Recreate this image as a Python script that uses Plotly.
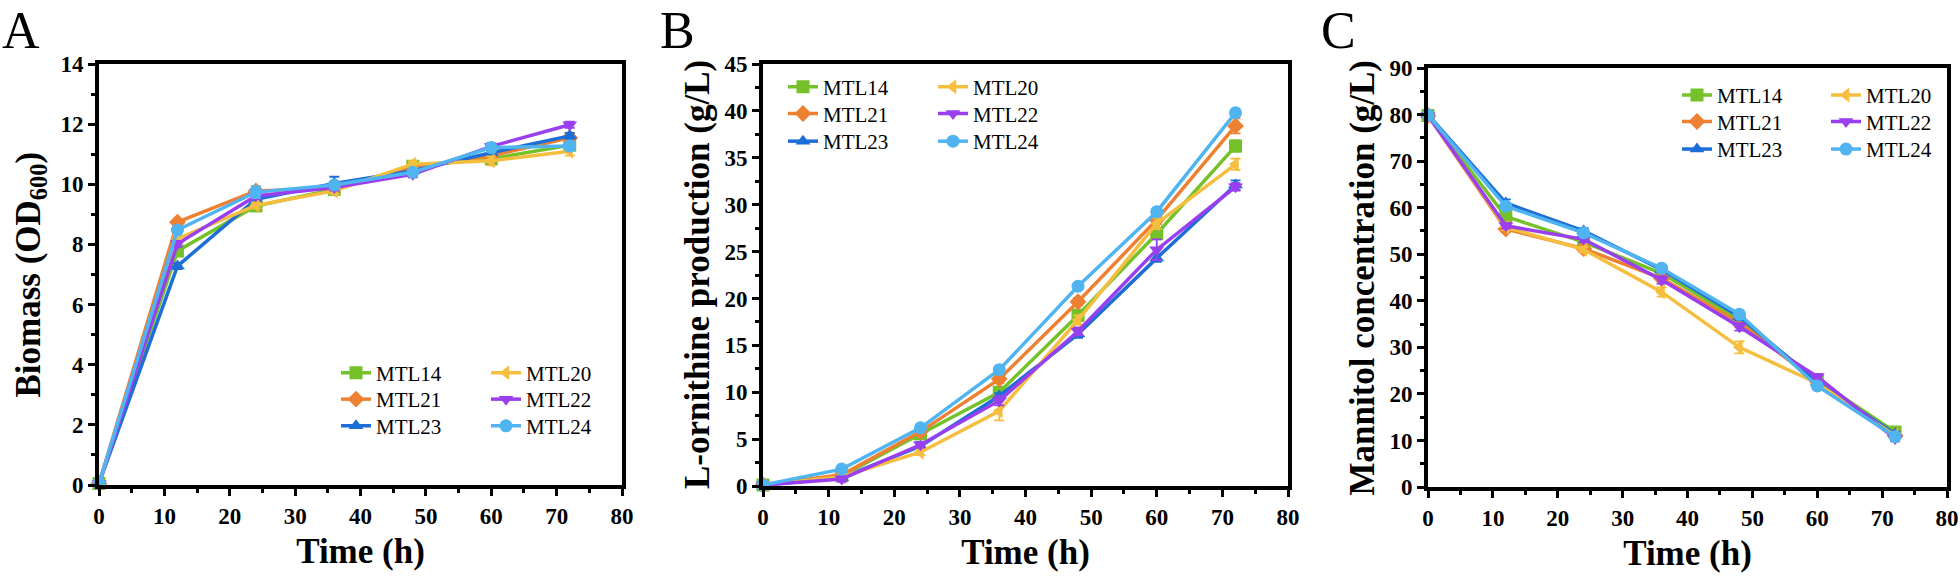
import plotly.graph_objects as go

# ---------------- data ----------------
time_h = [0, 12, 24, 36, 48, 60, 72]
strains = ["MTL14", "MTL20", "MTL21", "MTL22", "MTL23", "MTL24"]

# Panel A: Biomass (OD600)
biomass_mtl14 = [0.05, 7.78, 9.28, 9.83, 10.60, 10.85, 11.30]
biomass_mtl20 = [0.05, 8.19, 9.30, 9.78, 10.67, 10.78, 11.10]
biomass_mtl21 = [0.05, 8.74, 9.78, 9.87, 10.55, 10.95, 11.55]
biomass_mtl22 = [0.05, 8.02, 9.61, 9.89, 10.33, 11.26, 11.98]
biomass_mtl23 = [0.05, 7.28, 9.50, 10.03, 10.45, 11.05, 11.61]
biomass_mtl24 = [0.05, 8.48, 9.74, 9.98, 10.40, 11.22, 11.27]
biomass_err_mtl14 = [0.02, 0.10, 0.10, 0.10, 0.10, 0.20, 0.15]
biomass_err_mtl20 = [0.02, 0.10, 0.10, 0.10, 0.10, 0.15, 0.15]
biomass_err_mtl21 = [0.02, 0.10, 0.10, 0.10, 0.10, 0.10, 0.15]
biomass_err_mtl22 = [0.02, 0.10, 0.10, 0.10, 0.10, 0.10, 0.10]
biomass_err_mtl23 = [0.02, 0.10, 0.10, 0.22, 0.10, 0.10, 0.10]
biomass_err_mtl24 = [0.02, 0.10, 0.20, 0.10, 0.10, 0.15, 0.15]

# Panel B: L-ornithine production (g/L)
orn_mtl14 = [0.1, 1.10, 5.55, 10.0, 18.2, 26.9, 36.25]
orn_mtl20 = [0.1, 1.00, 3.60, 8.0, 17.7, 28.0, 34.30]
orn_mtl21 = [0.1, 1.20, 5.80, 11.4, 19.65, 28.4, 38.40]
orn_mtl22 = [0.1, 0.75, 4.40, 9.1, 16.5, 25.2, 31.90]
orn_mtl23 = [0.1, 0.90, 4.25, 9.6, 16.2, 24.3, 32.10]
orn_mtl24 = [0.1, 1.80, 6.20, 12.4, 21.3, 29.25, 39.80]
orn_err_mtl14 = [0.05, 0.2, 0.4, 0.4, 0.6, 0.5, 0.6]
orn_err_mtl20 = [0.05, 0.2, 0.3, 1.0, 0.5, 0.6, 0.6]
orn_err_mtl21 = [0.05, 0.2, 0.3, 0.4, 0.4, 0.5, 0.8]
orn_err_mtl22 = [0.05, 0.3, 0.3, 0.5, 0.4, 1.1, 0.4]
orn_err_mtl23 = [0.05, 0.2, 0.3, 0.3, 0.4, 0.4, 0.5]
orn_err_mtl24 = [0.05, 0.2, 0.3, 0.3, 0.3, 0.3, 0.3]

# Panel C: Mannitol concentration (g/L)
mtl_mtl14 = [79.8, 58.1, 52.6, 45.9, 36.0, 23.0, 11.8]
mtl_mtl20 = [79.8, 55.8, 51.0, 41.9, 30.0, 22.3, 11.0]
mtl_mtl21 = [79.8, 55.4, 51.2, 44.8, 35.3, 22.6, 11.0]
mtl_mtl22 = [79.8, 56.1, 53.2, 44.5, 34.4, 23.7, 10.4]
mtl_mtl23 = [80.0, 61.0, 55.0, 46.7, 36.6, 22.5, 11.4]
mtl_mtl24 = [79.9, 60.3, 54.6, 47.0, 37.1, 21.7, 10.8]
mtl_err_mtl14 = [0.5, 0.8, 0.6, 0.6, 0.8, 0.6, 0.6]
mtl_err_mtl20 = [0.5, 0.6, 0.6, 1.0, 1.3, 0.6, 0.6]
mtl_err_mtl21 = [0.5, 0.6, 0.8, 0.6, 1.0, 0.6, 0.6]
mtl_err_mtl22 = [0.5, 0.6, 0.6, 0.8, 0.8, 0.6, 0.6]
mtl_err_mtl23 = [0.5, 0.8, 0.6, 0.6, 0.8, 0.6, 0.6]
mtl_err_mtl24 = [0.5, 0.6, 0.8, 0.6, 0.8, 0.6, 0.6]

biomass_series = [biomass_mtl14, biomass_mtl20, biomass_mtl21, biomass_mtl22, biomass_mtl23, biomass_mtl24]
biomass_errors = [biomass_err_mtl14, biomass_err_mtl20, biomass_err_mtl21, biomass_err_mtl22, biomass_err_mtl23, biomass_err_mtl24]
orn_series = [orn_mtl14, orn_mtl20, orn_mtl21, orn_mtl22, orn_mtl23, orn_mtl24]
orn_errors = [orn_err_mtl14, orn_err_mtl20, orn_err_mtl21, orn_err_mtl22, orn_err_mtl23, orn_err_mtl24]
mtl_series = [mtl_mtl14, mtl_mtl20, mtl_mtl21, mtl_mtl22, mtl_mtl23, mtl_mtl24]
mtl_errors = [mtl_err_mtl14, mtl_err_mtl20, mtl_err_mtl21, mtl_err_mtl22, mtl_err_mtl23, mtl_err_mtl24]

# ---------------- style ----------------
colors = ["#74C12A", "#F5BE3E", "#EE8032", "#9A3FF0", "#1E6ED8", "#4FB4F0"]
symbols = ["square", "triangle-left", "diamond", "triangle-down", "triangle-up", "circle"]
FONT = "Liberation Serif, Times New Roman, serif"
W, H = 1960, 576

def px_x(p):
    return p / W

def px_y(p):
    return 1 - p / H

panels = [
    dict(series=biomass_series, errors=biomass_errors, xd=(99, 622), yd=(64, 485),
         yr=[0, 14], dt=2, mdt=1, title="Biomass (OD<sub>600</sub>)", tx=30,
         cols=(376, 526), rows=(372.5, 399.0, 425.7)),
    dict(series=orn_series, errors=orn_errors, xd=(763, 1288), yd=(64, 486),
         yr=[0, 45], dt=5, mdt=2.5, title="L-ornithine production (g/L)", tx=697,
         cols=(823, 973), rows=(86.7, 113.4, 141.0)),
    dict(series=mtl_series, errors=mtl_errors, xd=(1428, 1947), yd=(68, 487),
         yr=[0, 90], dt=10, mdt=5, title="Mannitol concentration (g/L)", tx=1362,
         cols=(1717, 1866), rows=(94.8, 121.3, 148.9)),
]

# legend layout: item index -> (col, row), row-major as in the reference
item_pos = {0: (0, 0), 1: (1, 0), 2: (0, 1), 3: (1, 1), 4: (0, 2), 5: (1, 2)}
draw_order = [0, 2, 4, 1, 3, 5]

fig = go.Figure()
layout = dict(
    width=W, height=H,
    margin=dict(l=0, r=0, t=0, b=0, autoexpand=False),
    paper_bgcolor="white", plot_bgcolor="white",
    showlegend=True,
    font=dict(family=FONT, color="black"),
    annotations=[],
)

tickfont = dict(family=FONT, size=23, color="black", weight="bold")
titlefont = dict(family=FONT, size=35, color="black", weight="bold")

for p, cfg in enumerate(panels):
    ax = "" if p == 0 else str(p + 1)
    xname, yname = "x" + ax, "y" + ax
    for i in draw_order:
        k = p * 6 + i
        lg = "legend" if k == 0 else f"legend{k + 1}"
        fig.add_trace(go.Scatter(
            x=time_h, y=cfg["series"][i], name=strains[i],
            mode="lines+markers",
            line=dict(color=colors[i], width=3.5),
            marker=dict(symbol=symbols[i], size=13, color=colors[i]),
            error_y=dict(type="data", array=cfg["errors"][i], color=colors[i], thickness=1.8, width=5),
            cliponaxis=False,
            xaxis=xname, yaxis=yname, legend=lg,
        ))
        col, row = item_pos[i]
        layout[lg] = dict(
            x=px_x(cfg["cols"][col] - 40), xanchor="left",
            y=px_y(cfg["rows"][row] - 20), yanchor="top",
            bgcolor="rgba(0,0,0,0)", borderwidth=0,
            font=dict(family=FONT, size=21, color="black"),
        )
    layout["xaxis" + ax] = dict(
        domain=[px_x(cfg["xd"][0]), px_x(cfg["xd"][1])], anchor=yname,
        range=[0, 80], tick0=0, dtick=10,
        ticks="outside", ticklen=7, tickwidth=3, tickcolor="black",
        minor=dict(dtick=5, ticks="outside", ticklen=4, tickwidth=3, tickcolor="black", showgrid=False),
        showline=True, linewidth=4, linecolor="black", mirror=True,
        showgrid=False, zeroline=False, tickfont=tickfont,
        title=dict(text="Time (h)", font=titlefont, standoff=12),
    )
    layout["yaxis" + ax] = dict(
        domain=[px_y(cfg["yd"][1]), px_y(cfg["yd"][0])], anchor=xname,
        range=cfg["yr"], tick0=0, dtick=cfg["dt"],
        ticks="outside", ticklen=7, tickwidth=3, tickcolor="black",
        minor=dict(dtick=cfg["mdt"], ticks="outside", ticklen=4, tickwidth=3, tickcolor="black", showgrid=False),
        showline=True, linewidth=4, linecolor="black", mirror=True,
        showgrid=False, zeroline=False, tickfont=tickfont,
    )
    # y-axis title, rotated, centred on the plot height
    layout["annotations"].append(dict(
        text=cfg["title"], textangle=-90,
        x=px_x(cfg["tx"]), y=px_y((cfg["yd"][0] + cfg["yd"][1]) / 2),
        xref="paper", yref="paper", xanchor="center", yanchor="middle",
        showarrow=False, font=titlefont,
    ))

panel_letters = [("A", 0), ("B", 658), ("C", 1319)]
for txt, lx in panel_letters:
    layout["annotations"].append(dict(
        text=txt, x=px_x(lx), y=1, xref="paper", yref="paper",
        xanchor="left", yanchor="top", showarrow=False,
        font=dict(family=FONT, size=52, color="black"),
    ))

fig.update_layout(**layout)
# remove the browser's default 8px page margin so the figure fills the window exactly
fig.write_html(
    "out.html",
    config={"displayModeBar": False},
    post_script="document.body.style.margin='0';document.body.style.overflow='hidden';",
)
